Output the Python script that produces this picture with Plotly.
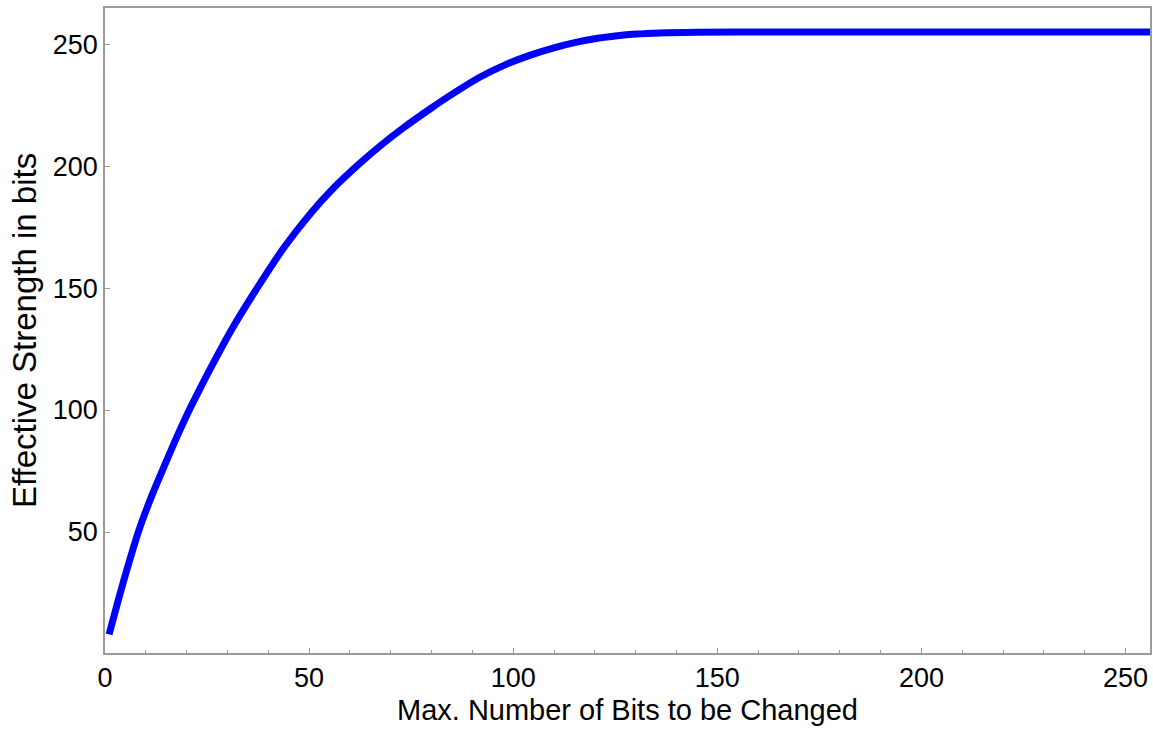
import plotly.graph_objects as go

# Values
max_bits_changed = [1, 3, 5, 8.3, 11.5, 14.8, 17.5, 20.5, 23.5, 26.3, 31.2, 36.9, 43.8, 50.3,
                    56, 62.2, 67.5, 72.8, 79.7, 86, 91.9, 98, 104.2, 110, 115.6, 120, 125,
                    130, 136, 145, 160, 200, 256]
effective_strength = [8, 20.5, 32.5, 50.7, 65, 78.1, 88.6, 99.5, 109.5, 118.5, 133.5, 149,
                      166.5, 180.5, 191, 200.8, 208.4, 215.3, 223.5, 230.5, 236.5, 241.5,
                      245.5, 248.5, 250.8, 252.2, 253.3, 254.1, 254.6, 254.9, 255, 255, 255]

x_tick_values = [0, 50, 100, 150, 200, 250]
y_tick_values = [50, 100, 150, 200, 250]

FONT = "Liberation Sans, Arial, sans-serif"
AXIS_GRAY = "#9a9a9a"

fig = go.Figure()
fig.add_trace(go.Scatter(
    x=max_bits_changed,
    y=effective_strength,
    mode="lines",
    line=dict(color="#0000ff", width=7, shape="spline", smoothing=0.8),
    showlegend=False,
))

fig.update_layout(
    width=1153,
    height=729,
    margin=dict(l=105, r=3, t=8, b=76),
    paper_bgcolor="white",
    plot_bgcolor="white",
    font=dict(family=FONT, color="black"),
)

fig.update_xaxes(
    range=[0, 256],
    tickvals=x_tick_values,
    ticks="inside",
    ticklen=5,
    tickwidth=1,
    tickcolor=AXIS_GRAY,
    minor=dict(dtick=10, tick0=0, ticks="inside", ticklen=3, tickcolor=AXIS_GRAY, showgrid=False),
    showline=True,
    linecolor=AXIS_GRAY,
    linewidth=1.5,
    mirror=True,
    showgrid=False,
    zeroline=False,
    automargin=False,
    tickfont=dict(size=27, family=FONT, color="black"),
    title=dict(text="Max. Number of Bits to be Changed",
               font=dict(size=29, family=FONT, color="black"), standoff=8),
)

fig.update_yaxes(
    range=[0.4, 264.8],
    tickvals=y_tick_values,
    ticks="inside",
    ticklen=5,
    tickwidth=1,
    tickcolor=AXIS_GRAY,
    showline=True,
    linecolor=AXIS_GRAY,
    linewidth=1.5,
    mirror=True,
    showgrid=False,
    zeroline=False,
    automargin=False,
    tickfont=dict(size=27, family=FONT, color="black"),
    title=dict(text="Effective Strength in bits",
               font=dict(size=33, family=FONT, color="black"), standoff=6),
)

fig.write_html(
    "out.html",
    config={"displayModeBar": False},
    post_script="document.body.style.margin='0';document.body.style.overflow='hidden';",
)
